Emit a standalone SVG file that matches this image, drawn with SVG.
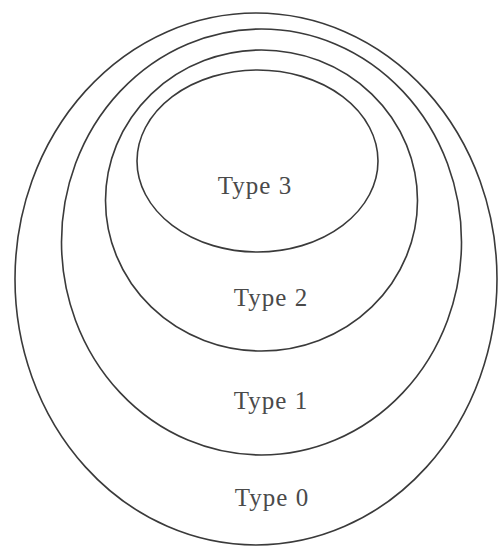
<svg xmlns="http://www.w3.org/2000/svg" width="498" height="548" viewBox="0 0 498 548">
<style>
.e{fill:none;stroke:#3a3a3a;stroke-width:1.6}
.t{font-family:"Liberation Serif","Times New Roman",serif;font-size:25px;fill:#4a4a4a;text-anchor:middle;letter-spacing:1px}
</style>
<rect width="498" height="548" fill="#fff"/>
<g id="type0"><ellipse class="e" cx="256" cy="279" rx="241" ry="266"/><text class="t" x="272" y="506">Type 0</text></g>
<g id="type1"><ellipse class="e" cx="261.5" cy="242" rx="200" ry="213"/><text class="t" x="271" y="409">Type 1</text></g>
<g id="type2"><ellipse class="e" cx="261.5" cy="200.5" rx="156" ry="150.5"/><text class="t" x="271" y="306">Type 2</text></g>
<g id="type3"><ellipse class="e" cx="257.5" cy="161" rx="120.5" ry="91"/><text class="t" x="255" y="194">Type 3</text></g>
<g id="connectors"></g>
</svg>
